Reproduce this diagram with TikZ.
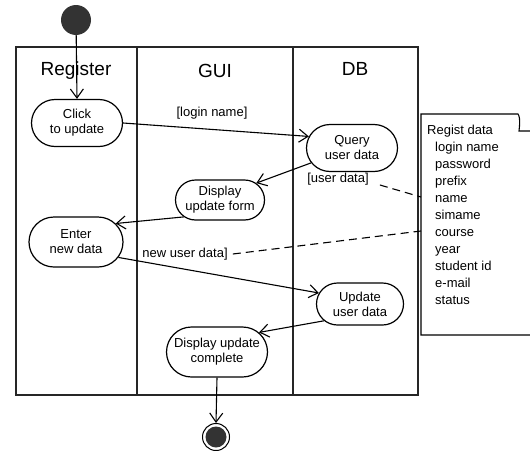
\documentclass[tikz,border=0pt]{standalone}
\usepackage{fontspec}
\setmainfont{Liberation Sans}
\usepackage{tikz}
\usetikzlibrary{shapes,arrows,arrows.meta}
\tikzstyle{lane} = [draw, line width=1.2pt, black!85]
\tikzstyle{activity} = [draw, rounded rectangle, line width=1.2pt, align=center, inner sep=2pt, font=\fontsize{13}{15}\selectfont]
\tikzstyle{guard} = [inner sep=1pt, font=\fontsize{13}{15}\selectfont]
\tikzstyle{arrow} = [draw, ->, >={Straight Barb[length=9pt,width=13pt]}, line width=1.1pt]
\tikzstyle{noteline} = [draw, dashed, dash pattern=on 8pt off 5pt, line width=1.1pt]

\begin{document}
\begin{tikzpicture}[auto, x=1pt, y=-1pt]
\useasboundingbox (0,0) rectangle (530,450);

% swimlanes
\draw[lane] (16,47) rectangle (418,395);
\draw[lane] (137,47) -- (137,395);
\draw[lane] (293,47) -- (293,395);
\node[font=\fontsize{19}{21}\selectfont] at (76,71) (register) {Register};
\node[font=\fontsize{19}{21}\selectfont] at (215,71) (gui) {GUI};
\node[font=\fontsize{19}{21}\selectfont] at (355,69) (db) {DB};

% start / end
\node[circle, fill=black!80, minimum size=30pt, inner sep=0pt] at (76,20) (start) {};
\node[circle, draw, line width=1pt, minimum size=27pt, inner sep=0pt,
  path picture={\fill[black!80] (path picture bounding box.center) circle (10.5pt);}] at (216,437) (finish) {};

% activities
\node[activity, minimum width=95pt, minimum height=47pt] at (77,123) (click) {Click\\to update};
\node[activity, minimum width=95pt, minimum height=47pt] at (352,148) (query) {Query\\user data};
\node[activity, minimum width=93pt, minimum height=40pt] at (220,200) (dispform) {Display\\update form};
\node[activity, minimum width=98pt, minimum height=50pt] at (76,242) (enter) {Enter\\new data};
\node[activity, minimum width=91pt, minimum height=42pt] at (360,304) (update) {Update\\user data};
\node[activity, minimum width=105pt, minimum height=50pt] at (217,352) (dispcomp) {Display update\\complete};

% guards
\node[guard] at (212,113) (loginlbl) {[login name]};
\node[guard] at (338,179) (userdatalbl) {[user data]};
\node[guard] at (185,254) (newdatalbl) {new user data]};

% note
\draw[line width=1.1pt] (532,335) -- (421,335) -- (421,114) -- (518,114)
  .. controls (521,118) and (519,130) .. (519,131) -- (532,131);
\coordinate (notea) at (421,197);
\coordinate (noteb) at (421,231);
\node[anchor=north west, inner sep=0pt, align=left, font=\fontsize{13}{17}\selectfont] at (427,125) (regist)
  {Regist data\\
   \hspace*{8pt}login name\\
   \hspace*{8pt}password\\
   \hspace*{8pt}prefix\\
   \hspace*{8pt}name\\
   \hspace*{8pt}simame\\
   \hspace*{8pt}course\\
   \hspace*{8pt}year\\
   \hspace*{8pt}student id\\
   \hspace*{8pt}e-mail\\
   \hspace*{8pt}status};

% flows
\path[arrow] (start) to (click.north);
\path[arrow] (click.east) to (query.165);
\path[arrow] (query.200) to (dispform.25);
\path[arrow] (dispform.205) to (enter.25);
\path[arrow] (enter.340) to (update.165);
\path[arrow] (update.205) to (dispcomp.25);
\path[arrow] (dispcomp.south) to (finish.north);
\path[noteline] ([shift={(10,6)}]userdatalbl.east) to (notea);
\path[noteline] ([xshift=4pt]newdatalbl.east) to (noteb);
\end{tikzpicture}
\end{document}
